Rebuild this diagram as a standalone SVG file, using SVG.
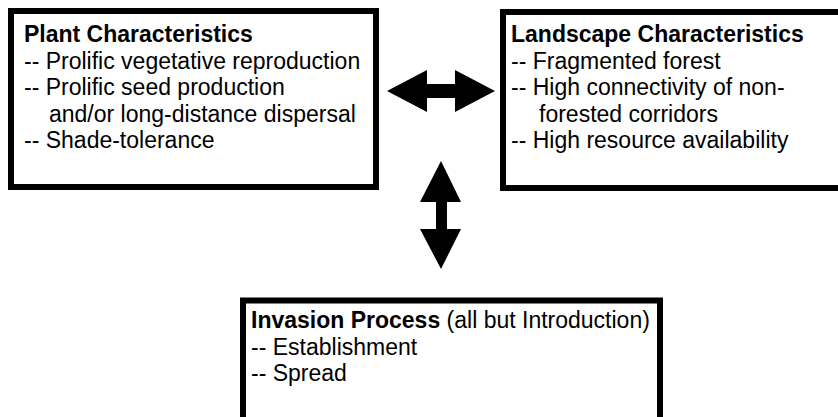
<svg xmlns="http://www.w3.org/2000/svg" width="838" height="417" viewBox="0 0 838 417">
<style>
.box{fill:#fff;stroke:#000;stroke-width:6}
text{font-family:"Liberation Sans",Arial,sans-serif;font-size:23px;fill:#000}
.b{font-weight:bold}
.arr{fill:#000;stroke:none}
</style>
<rect width="838" height="417" fill="#fff"/>
<g id="plant">
<rect class="box" x="11" y="11" width="365" height="176"/>
<text class="b" x="24" y="42">Plant Characteristics</text>
<text x="24" y="68.5">-- Prolific vegetative reproduction</text>
<text x="24" y="95">-- Prolific seed production</text>
<text x="49" y="121.5">and/or long-distance dispersal</text>
<text x="24" y="148">-- Shade-tolerance</text>
</g>
<g id="landscape">
<rect class="box" x="503" y="12" width="345" height="176"/>
<text class="b" x="511" y="42">Landscape Characteristics</text>
<text x="511" y="68.5">-- Fragmented forest</text>
<text x="511" y="95">-- High connectivity of non-</text>
<text x="539" y="121.5">forested corridors</text>
<text x="511" y="148">-- High resource availability</text>
</g>
<g id="invasion">
<rect class="box" x="243" y="300.5" width="417" height="130"/>
<text x="251" y="328"><tspan class="b">Invasion Process</tspan> (all but Introduction)</text>
<text x="251" y="354.5">-- Establishment</text>
<text x="251" y="381">-- Spread</text>
</g>
<g id="connectors">
<polygon class="arr" points="387,91 427,70 427,84 455,84 455,70 495,91 455,112 455,98 427,98 427,112"/>
<polygon class="arr" points="441,161 461,202 447,202 447,229 461,229 441,269 420,229 436,229 436,202 420,202"/>
</g>
</svg>
